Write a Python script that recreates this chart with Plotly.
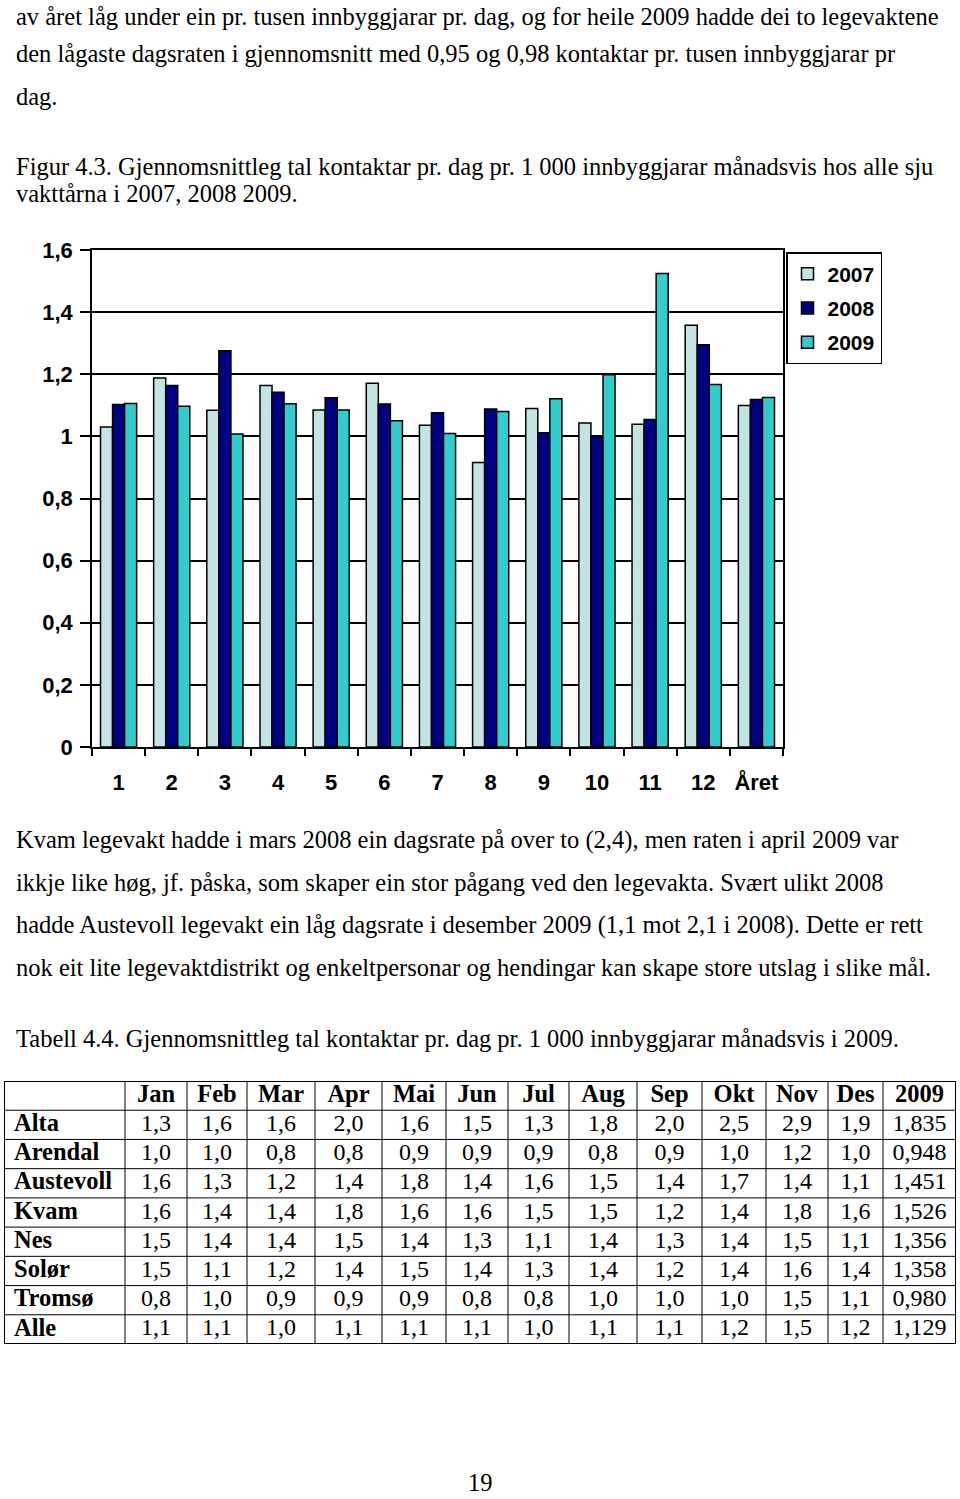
import plotly.graph_objects as go

W, H = 960, 1499

# ---------------- chart data ----------------
categories = ["1", "2", "3", "4", "5", "6", "7", "8", "9", "10", "11", "12", "Året"]
v2007 = [1.030, 1.188, 1.084, 1.164, 1.085, 1.171, 1.036, 0.916, 1.090, 1.043, 1.039, 1.358, 1.099]
v2008 = [1.103, 1.164, 1.276, 1.142, 1.124, 1.104, 1.076, 1.088, 1.012, 1.000, 1.054, 1.295, 1.119]
v2009 = [1.106, 1.097, 1.008, 1.105, 1.085, 1.050, 1.009, 1.080, 1.121, 1.198, 1.524, 1.167, 1.125]
series_names = ["2007", "2008", "2009"]
series_colors = ["#C4E3E5", "#000080", "#33CCCC"]
ytick_vals = [0, 0.2, 0.4, 0.6, 0.8, 1.0, 1.2, 1.4, 1.6]
ytick_text = ["0", "0,2", "0,4", "0,6", "0,8", "1", "1,2", "1,4", "1,6"]

# ---------------- table data ----------------
tbl_header = ["Jan", "Feb", "Mar", "Apr", "Mai", "Jun", "Jul", "Aug", "Sep", "Okt", "Nov", "Des", "2009"]
tbl_rows = ["Alta", "Arendal", "Austevoll", "Kvam", "Nes", "Solør", "Tromsø", "Alle"]
tbl_values = [
    ["1,3", "1,6", "1,6", "2,0", "1,6", "1,5", "1,3", "1,8", "2,0", "2,5", "2,9", "1,9", "1,835"],
    ["1,0", "1,0", "0,8", "0,8", "0,9", "0,9", "0,9", "0,8", "0,9", "1,0", "1,2", "1,0", "0,948"],
    ["1,6", "1,3", "1,2", "1,4", "1,8", "1,4", "1,6", "1,5", "1,4", "1,7", "1,4", "1,1", "1,451"],
    ["1,6", "1,4", "1,4", "1,8", "1,6", "1,6", "1,5", "1,5", "1,2", "1,4", "1,8", "1,6", "1,526"],
    ["1,5", "1,4", "1,4", "1,5", "1,4", "1,3", "1,1", "1,4", "1,3", "1,4", "1,5", "1,1", "1,356"],
    ["1,5", "1,1", "1,2", "1,4", "1,5", "1,4", "1,3", "1,4", "1,2", "1,4", "1,6", "1,4", "1,358"],
    ["0,8", "1,0", "0,9", "0,9", "0,9", "0,8", "0,8", "1,0", "1,0", "1,0", "1,5", "1,1", "0,980"],
    ["1,1", "1,1", "1,0", "1,1", "1,1", "1,1", "1,0", "1,1", "1,1", "1,2", "1,5", "1,2", "1,129"],
]

# ---------------- text ----------------
text_lines = [
    (16, "av året låg under ein pr. tusen innbyggjarar pr. dag, og for heile 2009 hadde dei to legevaktene"),
    (54, "den lågaste dagsraten i gjennomsnitt med 0,95 og 0,98 kontaktar pr. tusen innbyggjarar pr"),
    (96, "dag."),
    (166, "Figur 4.3. Gjennomsnittleg tal kontaktar pr. dag pr. 1 000 innbyggjarar månadsvis hos alle sju"),
    (194, "vakttårna i 2007, 2008 2009."),
    (840, "Kvam legevakt hadde i mars 2008 ein dagsrate på over to (2,4), men raten i april 2009 var"),
    (882, "ikkje like høg, jf. påska, som skaper ein stor pågang ved den legevakta. Svært ulikt 2008"),
    (925, "hadde Austevoll legevakt ein låg dagsrate i desember 2009 (1,1 mot 2,1 i 2008). Dette er rett"),
    (967, "nok eit lite legevaktdistrikt og enkeltpersonar og hendingar kan skape store utslag i slike mål."),
    (1038, "Tabell 4.4. Gjennomsnittleg tal kontaktar pr. dag pr. 1 000 innbyggjarar månadsvis i 2009."),
]

def py(pix):
    return 1 - pix / H

def px(pix):
    return pix / W

fig = go.Figure()

series_vals = [v2007, v2008, v2009]
for name, vals, col in zip(series_names, series_vals, series_colors):
    fig.add_trace(go.Bar(
        x=categories, y=vals, name=name, legendgroup=name,
        marker=dict(color=col, line=dict(color="black", width=1.5)),
        xaxis="x", yaxis="y",
    ))

# ---------------- table on its own hidden axes ----------------
col_edges = [4, 125, 187, 247, 315, 382, 446, 508, 569, 637, 702, 766, 828, 883, 956]
n_rows = len(tbl_rows) + 1
col_centers = [(col_edges[i] + col_edges[i + 1]) / 2 for i in range(1, len(col_edges) - 1)]

fig.add_trace(go.Scatter(
    x=col_centers, y=[0.5] * len(tbl_header), text=tbl_header, mode="text",
    textposition="middle center", showlegend=False, hoverinfo="skip",
    textfont=dict(family="Liberation Serif", size=24.5, color="black", weight="bold"),
    xaxis="x2", yaxis="y2",
))
fig.add_trace(go.Scatter(
    x=[col_edges[0] + 10] * len(tbl_rows), y=[i + 1.5 for i in range(len(tbl_rows))],
    text=tbl_rows, mode="text", textposition="middle right", showlegend=False, hoverinfo="skip",
    textfont=dict(family="Liberation Serif", size=24.5, color="black", weight="bold"),
    xaxis="x2", yaxis="y2",
))
vx, vy, vt = [], [], []
for i, row in enumerate(tbl_values):
    for j, v in enumerate(row):
        vx.append(col_centers[j])
        vy.append(i + 1.5)
        vt.append(v)
fig.add_trace(go.Scatter(
    x=vx, y=vy, text=vt, mode="text", textposition="middle center",
    showlegend=False, hoverinfo="skip",
    textfont=dict(family="Liberation Serif", size=24, color="black"),
    xaxis="x2", yaxis="y2",
))

shapes = []
for xe in col_edges[1:-1]:
    shapes.append(dict(type="line", xref="x2", yref="y2", x0=xe, x1=xe, y0=0, y1=n_rows,
                       line=dict(color="black", width=1)))
for r in range(1, n_rows):
    shapes.append(dict(type="line", xref="x2", yref="y2", x0=col_edges[0], x1=col_edges[-1], y0=r, y1=r,
                       line=dict(color="black", width=1)))
shapes.append(dict(type="rect", xref="x2", yref="y2", x0=col_edges[0], x1=col_edges[-1], y0=0, y1=n_rows,
                   line=dict(color="black", width=2)))

annotations = []
for ypix, t in text_lines:
    annotations.append(dict(
        text=t, x=px(15), y=py(ypix), xref="paper", yref="paper",
        xanchor="left", yanchor="middle", showarrow=False, borderpad=0,
        font=dict(family="Liberation Serif", size=24.5, color="black"),
    ))
annotations.append(dict(
    text="19", x=0.5, y=py(1482), xref="paper", yref="paper",
    xanchor="center", yanchor="middle", showarrow=False, borderpad=0,
    font=dict(family="Liberation Serif", size=24.5, color="black"),
))

axis_font = dict(family="Liberation Sans", size=22, color="black", weight="bold")

fig.update_layout(
    width=W, height=H,
    margin=dict(l=0, r=0, t=0, b=0, autoexpand=False),
    paper_bgcolor="white", plot_bgcolor="white",
    barmode="group", bargap=0.32, bargroupgap=0,
    showlegend=True,
    legend=dict(
        x=px(786), y=py(252), xanchor="left", yanchor="top",
        bordercolor="black", borderwidth=1.5, bgcolor="white",
        font=dict(family="Liberation Sans", size=21, color="black", weight="bold"),
        traceorder="grouped", tracegroupgap=4, itemwidth=30,
    ),
    xaxis=dict(
        domain=[px(92), px(783)], anchor="y",
        showline=True, linecolor="black", linewidth=1.5, mirror=True,
        ticks="outside", tickson="boundaries", ticklen=7, tickwidth=1.5, tickcolor="black",
        tickfont=axis_font, showgrid=False, ticklabelstandoff=15, tickangle=0,
    ),
    yaxis=dict(
        domain=[py(747), py(250)], anchor="x",
        range=[0, 1.6], tickvals=ytick_vals, ticktext=ytick_text,
        showline=True, linecolor="black", linewidth=1.5, mirror=True,
        ticks="outside", ticklen=10, tickwidth=1.5, tickcolor="black",
        showgrid=True, gridcolor="black", gridwidth=1.5, zeroline=False,
        tickfont=axis_font, ticklabelstandoff=3,
    ),
    xaxis2=dict(
        domain=[px(4), px(956)], anchor="y2", range=[4, 956],
        visible=False, fixedrange=True,
    ),
    yaxis2=dict(
        domain=[py(1344), py(1081)], anchor="x2", range=[n_rows, 0],
        visible=False, fixedrange=True,
    ),
    annotations=annotations,
    shapes=shapes,
)

fig.write_html("out.html")
